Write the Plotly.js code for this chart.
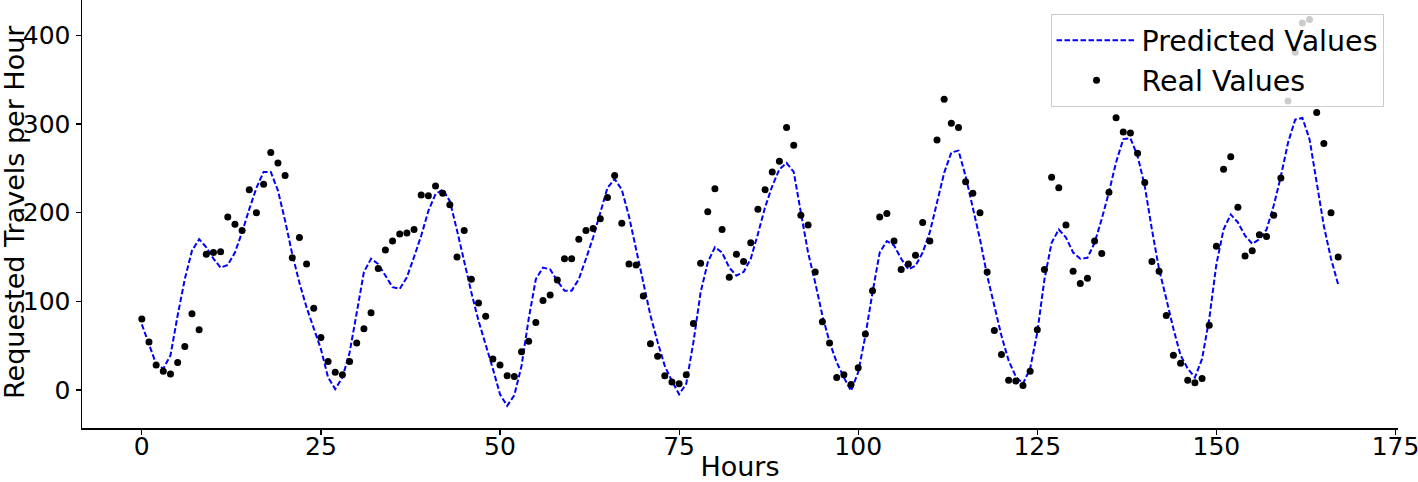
<!DOCTYPE html>
<html>
<head>
<meta charset="utf-8">
<script src="https://cdn.plot.ly/plotly-3.0.1.min.js"></script>
<style>
  html, body { margin: 0; padding: 0; background: #fff; }
  #plot { width: 1418px; height: 482px; }
</style>
</head>
<body>
<div id="plot"></div>
<script>
// Hours 0..167
let hours = [];
for (let i = 0; i < 168; i++) hours.push(i);

// Real values (dots)
let realValues = [
  80, 54, 28, 21, 18, 31, 49, 86, 68, 153,
  155, 156, 195, 187, 180, 226, 200, 232, 268, 256,
  242, 149, 172, 142, 92, 59, 32, 20, 17, 32,
  53, 69, 87, 137, 158, 168, 176, 177, 181, 220,
  219, 230, 222, 209, 150, 180, 125, 98, 83, 35,
  28, 16, 15, 43, 55, 76, 101, 107, 124, 148,
  148, 170, 180, 182, 193, 217, 242, 188, 142, 141,
  106, 52, 38, 16, 9, 7, 17, 75, 143, 201,
  227, 181, 127, 153, 145, 166, 204, 226, 246, 258,
  296, 276, 197, 186, 133, 77, 53, 14, 17, 6,
  25, 63, 112, 195, 199, 168, 136, 142, 152, 189,
  168, 282, 328, 301, 296, 235, 222, 200, 133, 67,
  40, 11, 10, 5, 21, 68, 136, 240, 228, 186,
  134, 120, 126, 168, 154, 223, 307, 291, 290, 267,
  234, 145, 134, 84, 39, 30, 11, 8, 13, 73,
  162, 249, 263, 206, 151, 157, 175, 173, 197, 239,
  326, 381, 414, 418, 313, 278, 200, 150
];

// Predicted values (dashed line)
let predictedValues = [
  74, 52, 29, 24, 39, 84, 125, 157, 170, 161,
  148, 138, 141, 155, 178, 204, 228, 246, 246, 225,
  191, 153, 121, 93, 69, 46, 14, 1, 14, 42,
  87, 133, 148, 142, 129, 116, 114, 127, 150, 174,
  202, 221, 226, 213, 180, 144, 110, 78, 52, 24,
  -5, -18, -6, 27, 80, 125, 138, 136, 123, 112,
  112, 125, 148, 172, 200, 228, 238, 226, 196, 159,
  123, 84, 54, 27, 10, -5, 7, 54, 110, 144,
  161, 155, 138, 129, 133, 148, 176, 206, 230, 249,
  256, 246, 200, 155, 121, 84, 54, 31, 14, -1,
  20, 61, 110, 155, 168, 163, 148, 136, 140, 155,
  178, 211, 245, 268, 270, 241, 204, 170, 129, 95,
  61, 33, 15, 7, 24, 65, 125, 166, 181, 172,
  155, 148, 149, 166, 193, 223, 257, 283, 284, 264,
  230, 181, 136, 103, 69, 39, 24, 14, 35, 80,
  142, 181, 198, 189, 174, 165, 170, 181, 208, 241,
  279, 305, 307, 283, 234, 185, 148, 119
];

let xTicks = [0, 25, 50, 75, 100, 125, 150, 175];
let yTicks = [0, 100, 200, 300, 400];

let predicted = {
  x: hours,
  y: predictedValues,
  name: "Predicted Values",
  type: "scatter",
  mode: "lines",
  line: { color: "#0000ff", width: 2, dash: "5.5px,2.5px" }
};

let real = {
  x: hours,
  y: realValues,
  name: "Real Values",
  type: "scatter",
  mode: "markers",
  marker: { color: "#000000", size: 7 }
};

let layout = {
  width: 1418,
  height: 482,
  margin: { l: 82, r: 20, t: 0, b: 54 },
  paper_bgcolor: "#ffffff",
  plot_bgcolor: "#ffffff",
  font: { family: "DejaVu Sans", size: 25, color: "#000000" },
  showlegend: true,
  legend: {
    x: 0.989, y: 0.967, xanchor: "right", yanchor: "top",
    bgcolor: "rgba(255,255,255,0.8)",
    bordercolor: "#cccccc", borderwidth: 1,
    font: { family: "DejaVu Sans", size: 28.5 },
    itemwidth: 80
  },
  xaxis: {
    range: [-8.35, 175.35],
    tickvals: xTicks,
    ticklabeloverflow: "allow",
    ticklabelstandoff: -10,
    ticks: "outside", ticklen: 5, tickwidth: 1.2, tickcolor: "#000",
    showline: true, linecolor: "#000", linewidth: 1.5,
    showgrid: false, zeroline: false,
    title: { text: "Hours", font: { size: 27 }, standoff: 22 }
  },
  yaxis: {
    range: [-43, 440],
    tickvals: yTicks,
    ticks: "outside", ticklen: 5, tickwidth: 1.2, tickcolor: "#000",
    showline: true, linecolor: "#000", linewidth: 1.5,
    showgrid: false, zeroline: false
  },
  // y title as a rotated annotation so it can sit at the very left edge
  annotations: [{
    text: "Requested Travels per Hour",
    xref: "paper", yref: "paper",
    x: 0, y: 0.5, xshift: -68, yshift: 2,
    xanchor: "center", yanchor: "middle",
    textangle: -90, showarrow: false,
    font: { family: "DejaVu Sans", size: 27, color: "#000" }
  }]
};

Plotly.newPlot("plot", [predicted, real], layout, { displayModeBar: false, staticPlot: true });
</script>
</body>
</html>
